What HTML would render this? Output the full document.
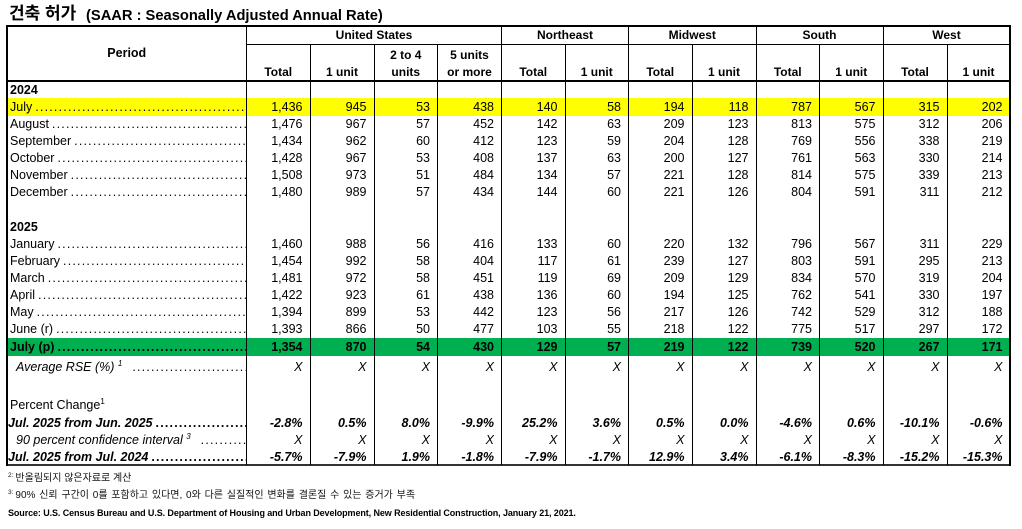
<!DOCTYPE html>
<html><head><meta charset="utf-8">
<style>
html,body{margin:0;padding:0}
body{width:1022px;height:529px;background:#fff;position:relative;overflow:hidden;font-family:"Liberation Sans",sans-serif;color:#000}
.a{position:absolute}
.t1{left:9px;top:3.5px;font:bold 17px/20px "Liberation Sans","Noto Sans CJK KR",sans-serif}
.t2{left:86px;top:5.5px;font:bold 14.7px/20px "Liberation Sans",sans-serif;white-space:nowrap}
.r{position:absolute;left:7px;width:1003px;height:17px;line-height:17px;display:flex;font-size:12.5px}
.r>div{flex:none;box-sizing:border-box;text-align:right;padding-right:7.5px;white-space:nowrap}
.r>div:nth-child(1){width:239.5px;text-align:left;padding:0 0 0 3px;display:flex;overflow:hidden}
.r>div:nth-child(2){width:63.5px}
.r>div:nth-child(3){width:64px}
.r>div:nth-child(4){width:63.5px}
.r>div:nth-child(5){width:64px}
.r>div:nth-child(6){width:63.5px}
.r>div:nth-child(7){width:63.5px}
.r>div:nth-child(8){width:63.5px}
.r>div:nth-child(9){width:64px}
.r>div:nth-child(10){width:63.5px}
.r>div:nth-child(11){width:63.5px}
.r>div:nth-child(12){width:64px}
.r>div:nth-child(13){width:63px}
.r>div:nth-child(1)>span{flex:none}
.lead::after{content:"....................................................................................................";flex:1 1 0;min-width:0;overflow:hidden;letter-spacing:1.2px;margin-left:3px;font-style:normal}
.y{background:#ffff00;height:18px;line-height:18px}
.g{background:#00b050;height:18px;line-height:18px;font-weight:bold}
.b{font-weight:bold}
.i{font-style:italic}
.bi{font-weight:bold;font-style:italic}
.r>div.ind{padding-left:9px}
.v{position:absolute;width:1px;background:#000}
.h{position:absolute;height:1px;background:#000}
.hd{position:absolute;font:bold 12px/17px "Liberation Sans",sans-serif;text-align:center}
sup{font-size:8px;line-height:1;vertical-align:5px}
.fn{position:absolute;left:8px;font:10px/12px "Liberation Sans","Noto Sans CJK KR",sans-serif;white-space:nowrap;color:#111}
.fn .s{font-size:6.5px;vertical-align:4px;margin-right:2px}
.src{position:absolute;left:8px;top:507px;font:bold 9px/12px "Liberation Sans",sans-serif;letter-spacing:-0.1px;white-space:nowrap}
</style></head><body>

<div class="a t1">건축 허가</div>
<div class="a t2">(SAAR : Seasonally Adjusted Annual Rate)</div>

<!-- header text -->
<div class="hd" style="left:7px;top:45px;width:239.5px;font-size:12.5px">Period</div>
<div class="hd" style="left:246.5px;top:26.5px;width:255px">United States</div>
<div class="hd" style="left:501.5px;top:26.5px;width:127px">Northeast</div>
<div class="hd" style="left:628.5px;top:26.5px;width:127.5px">Midwest</div>
<div class="hd" style="left:756px;top:26.5px;width:127px">South</div>
<div class="hd" style="left:883px;top:26.5px;width:127px">West</div>

<div class="hd" style="left:246.5px;top:64px;width:63.5px">Total</div>
<div class="hd" style="left:310px;top:64px;width:64px">1 unit</div>
<div class="hd" style="left:374px;top:47px;width:63.5px">2 to 4<br>units</div>
<div class="hd" style="left:437.5px;top:47px;width:64px">5 units<br>or more</div>
<div class="hd" style="left:501.5px;top:64px;width:63.5px">Total</div>
<div class="hd" style="left:565px;top:64px;width:63.5px">1 unit</div>
<div class="hd" style="left:628.5px;top:64px;width:63.5px">Total</div>
<div class="hd" style="left:692px;top:64px;width:64px">1 unit</div>
<div class="hd" style="left:756px;top:64px;width:63.5px">Total</div>
<div class="hd" style="left:819.5px;top:64px;width:63.5px">1 unit</div>
<div class="hd" style="left:883px;top:64px;width:64px">Total</div>
<div class="hd" style="left:947px;top:64px;width:63px">1 unit</div>

<!-- rows -->
<div class="r b" style="top:81.5px"><div>2024</div></div>
<div class="r y" style="top:98px"><div class="lead">July</div><div>1,436</div><div>945</div><div>53</div><div>438</div><div>140</div><div>58</div><div>194</div><div>118</div><div>787</div><div>567</div><div>315</div><div>202</div></div>
<div class="r" style="top:116px"><div class="lead">August</div><div>1,476</div><div>967</div><div>57</div><div>452</div><div>142</div><div>63</div><div>209</div><div>123</div><div>813</div><div>575</div><div>312</div><div>206</div></div>
<div class="r" style="top:133px"><div class="lead">September</div><div>1,434</div><div>962</div><div>60</div><div>412</div><div>123</div><div>59</div><div>204</div><div>128</div><div>769</div><div>556</div><div>338</div><div>219</div></div>
<div class="r" style="top:150px"><div class="lead">October</div><div>1,428</div><div>967</div><div>53</div><div>408</div><div>137</div><div>63</div><div>200</div><div>127</div><div>761</div><div>563</div><div>330</div><div>214</div></div>
<div class="r" style="top:167px"><div class="lead">November</div><div>1,508</div><div>973</div><div>51</div><div>484</div><div>134</div><div>57</div><div>221</div><div>128</div><div>814</div><div>575</div><div>339</div><div>213</div></div>
<div class="r" style="top:184px"><div class="lead">December</div><div>1,480</div><div>989</div><div>57</div><div>434</div><div>144</div><div>60</div><div>221</div><div>126</div><div>804</div><div>591</div><div>311</div><div>212</div></div>

<div class="r b" style="top:218.5px"><div>2025</div></div>
<div class="r" style="top:235.5px"><div class="lead">January</div><div>1,460</div><div>988</div><div>56</div><div>416</div><div>133</div><div>60</div><div>220</div><div>132</div><div>796</div><div>567</div><div>311</div><div>229</div></div>
<div class="r" style="top:252.5px"><div class="lead">February</div><div>1,454</div><div>992</div><div>58</div><div>404</div><div>117</div><div>61</div><div>239</div><div>127</div><div>803</div><div>591</div><div>295</div><div>213</div></div>
<div class="r" style="top:269.5px"><div class="lead">March</div><div>1,481</div><div>972</div><div>58</div><div>451</div><div>119</div><div>69</div><div>209</div><div>129</div><div>834</div><div>570</div><div>319</div><div>204</div></div>
<div class="r" style="top:286.5px"><div class="lead">April</div><div>1,422</div><div>923</div><div>61</div><div>438</div><div>136</div><div>60</div><div>194</div><div>125</div><div>762</div><div>541</div><div>330</div><div>197</div></div>
<div class="r" style="top:303.5px"><div class="lead">May</div><div>1,394</div><div>899</div><div>53</div><div>442</div><div>123</div><div>56</div><div>217</div><div>126</div><div>742</div><div>529</div><div>312</div><div>188</div></div>
<div class="r" style="top:320.5px"><div class="lead">June (r)</div><div>1,393</div><div>866</div><div>50</div><div>477</div><div>103</div><div>55</div><div>218</div><div>122</div><div>775</div><div>517</div><div>297</div><div>172</div></div>
<div class="r g" style="top:338px"><div class="lead">July (p)</div><div>1,354</div><div>870</div><div>54</div><div>430</div><div>129</div><div>57</div><div>219</div><div>122</div><div>739</div><div>520</div><div>267</div><div>171</div></div>
<div class="r i" style="top:357.5px;height:18px;line-height:18px"><div class="lead ind"><span>Average RSE (%) <sup>1</sup>&nbsp;&nbsp;</span></div><div>X</div><div>X</div><div>X</div><div>X</div><div>X</div><div>X</div><div>X</div><div>X</div><div>X</div><div>X</div><div>X</div><div>X</div></div>

<div class="r" style="top:396.5px"><div><span>Percent Change<sup>1</sup></span></div></div>
<div class="r bi" style="top:414.5px"><div class="lead" style="padding-left:1px">Jul. 2025 from Jun. 2025</div><div>-2.8%</div><div>0.5%</div><div>8.0%</div><div>-9.9%</div><div>25.2%</div><div>3.6%</div><div>0.5%</div><div>0.0%</div><div>-4.6%</div><div>0.6%</div><div>-10.1%</div><div>-0.6%</div></div>
<div class="r i" style="top:431.5px"><div class="lead ind"><span>90 percent confidence interval <sup>3</sup>&nbsp;&nbsp;</span></div><div>X</div><div>X</div><div>X</div><div>X</div><div>X</div><div>X</div><div>X</div><div>X</div><div>X</div><div>X</div><div>X</div><div>X</div></div>
<div class="r bi" style="top:448.5px"><div class="lead" style="padding-left:1px">Jul. 2025 from Jul. 2024</div><div>-5.7%</div><div>-7.9%</div><div>1.9%</div><div>-1.8%</div><div>-7.9%</div><div>-1.7%</div><div>12.9%</div><div>3.4%</div><div>-6.1%</div><div>-8.3%</div><div>-15.2%</div><div>-15.3%</div></div>

<!-- grid lines -->
<div class="h" style="left:6px;top:25px;width:1005px;height:2px"></div>
<div class="h" style="left:246px;top:44px;width:764px"></div>
<div class="h" style="left:6px;top:80px;width:1005px;height:2px"></div>
<div class="h" style="left:6px;top:464px;width:1005px;height:2px;background:#333"></div>

<div class="v" style="left:6px;top:25px;height:441px;width:2px"></div>
<div class="v" style="left:1009px;top:25px;height:441px;width:2px"></div>
<div class="v" style="left:246px;top:26px;height:439px"></div>
<div class="v" style="left:501px;top:26px;height:439px"></div>
<div class="v" style="left:628px;top:26px;height:439px"></div>
<div class="v" style="left:756px;top:26px;height:439px"></div>
<div class="v" style="left:883px;top:26px;height:439px"></div>
<div class="v" style="left:310px;top:44px;height:421px"></div>
<div class="v" style="left:374px;top:44px;height:421px"></div>
<div class="v" style="left:437px;top:44px;height:421px"></div>
<div class="v" style="left:565px;top:44px;height:421px"></div>
<div class="v" style="left:692px;top:44px;height:421px"></div>
<div class="v" style="left:819px;top:44px;height:421px"></div>
<div class="v" style="left:947px;top:44px;height:421px"></div>

<!-- footnotes -->
<div class="fn" style="top:469.5px"><span class="s">2:</span>반올림되지 않은자료로 계산</div>
<div class="fn" style="top:487px;word-spacing:1px"><span class="s">3:</span>90% 신뢰 구간이 0를 포함하고 있다면, 0와 다른 실질적인 변화를 결론질 수 있는 증거가 부족</div>
<div class="src">Source: U.S. Census Bureau and U.S. Department of Housing and Urban Development, New Residential Construction, January 21, 2021.</div>

</body></html>
